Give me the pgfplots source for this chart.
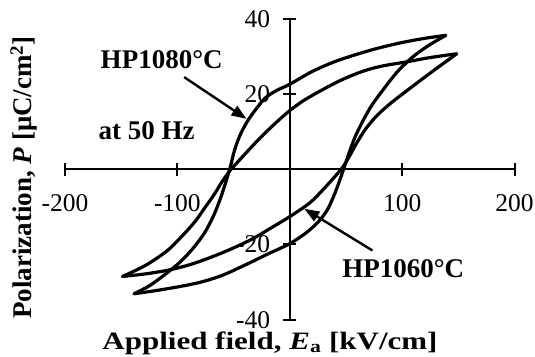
\documentclass[border=0pt]{standalone}
\usepackage{fontspec}
\setmainfont{Liberation Serif}
\newfontfamily\widebold[FakeStretch=1.24]{Liberation Serif}
\usepackage{pgfplots}
\pgfplotsset{compat=1.18}
\usetikzlibrary{arrows.meta}

% P-E hysteresis loops of two hot-pressed samples
\pgfplotstableread{
E P
138.8 35.6
120 34.8
100 33.7
80 32.3
60 30.6
40 28.6
20 26.0
0 22.6
-12 20.9
-22 18.9
-31 15.6
-38 12.6
-44 9.2
-49 5.2
-53 0.5
-57 -3.5
-62 -8
-68 -12.5
-76 -17
-86 -21
-98 -24.8
-112 -28.2
-125 -31
-138.5 -33.1
}\hpAupper
\pgfplotstableread{
E P
-138.5 -33.1
-120 -32.3
-100 -31.3
-79 -30.0
-60 -28.2
-40 -25.5
-20 -22.6
0 -19.8
15 -16.8
26 -13.8
34 -10.5
40 -6.5
45 -2.5
49 1.0
53 4.5
58 8.5
65 12.8
73 17
84 21.5
96 26
110 30
124 33
138.8 35.6
}\hpAlower
\pgfplotstableread{
E P
148.6 30.7
125 29.7
103 28.5
85 27.6
72 26.7
60 25.5
45 23.6
27.6 20.9
12 18.2
0 15.6
-10 13
-20 10.2
-30 7.2
-40 4.0
-47 1.7
-53 -0.3
-60 -3.2
-67 -6.6
-75 -10
-84 -13.8
-95 -17.5
-108.8 -21.6
-128 -25.5
-148.8 -28.5
}\hpBupper
\pgfplotstableread{
E P
-148.8 -28.5
-128 -27.8
-106 -26.7
-85 -25
-60 -22.2
-35 -18.8
-15 -15.3
0 -12.6
18 -8.9
30 -5.3
40 -2.0
47 0.5
53 3.4
60 7.2
68 10.9
78 14.4
90 17.6
104.7 21
126 25.8
148.6 30.7
}\hpBlower

\begin{document}
\begin{tikzpicture}
\path[use as bounding box] (-65pt,-36.3pt) rectangle (470pt,319.7pt);
\begin{axis}[
  at={(0pt,0pt)}, anchor=south west,
  scale only axis, width=449.5pt, height=300.9pt,
  xmin=-200, xmax=200, ymin=-40, ymax=40,
  axis lines=middle,
  axis line style={-, line width=2.2pt},
  xtick={-200,-100,100,200}, xticklabels={-200,-100,100,200},
  ytick={-40,-20,20,40}, yticklabels={-40,-20,20,40},
  tick align=center, major tick length=13pt,
  tick style={line width=2pt, black},
  xticklabel style={anchor=center, inner sep=0pt, yshift=-27pt,
    font=\fontsize{25.5}{28}\selectfont},
  yticklabel style={anchor=east, inner sep=0pt, xshift=-13pt,
    font=\fontsize{25.5}{28}\selectfont},
  clip=false,
]
\addplot[black, line width=3.2pt, line cap=round, smooth, tension=0.5] table {\hpAupper};
\addplot[black, line width=3.2pt, line cap=round, smooth, tension=0.5] table {\hpAlower};
\addplot[black, line width=3.2pt, line cap=round, smooth, tension=0.5] table {\hpBupper};
\addplot[black, line width=3.2pt, line cap=round, smooth, tension=0.5] table {\hpBlower};

\draw[-{Triangle[length=15pt,width=11pt]}, line width=2.4pt]
  (axis cs:-94,24.5) -- (axis cs:-38.5,13.4);
\draw[-{Triangle[length=15pt,width=11pt]}, line width=2.4pt]
  (axis cs:73.6,-21.6) -- (axis cs:13,-10.5);

\node[font=\bfseries\fontsize{27}{30}\selectfont] at (axis cs:-114,29.2) {HP1080°C};
\node[font=\bfseries\fontsize{27}{30}\selectfont] at (axis cs:-127.4,10.3) {at 50 Hz};
\node[font=\bfseries\fontsize{27}{30}\selectfont] at (axis cs:101,-26.3) {HP1060°C};
\end{axis}
\node[rotate=90, inner sep=0pt, font=\bfseries\fontsize{27}{30}\selectfont] at (-41pt,142.2pt)
  {Polarization, \textit{P} [μC/cm\textsuperscript{2}]};
\node[inner sep=0pt, font=\widebold\bfseries\fontsize{25}{27}\selectfont] at (205pt,-23.3pt)
  {Applied field, \textit{E}\textsubscript{a} [kV/cm]};
\end{tikzpicture}
\end{document}
